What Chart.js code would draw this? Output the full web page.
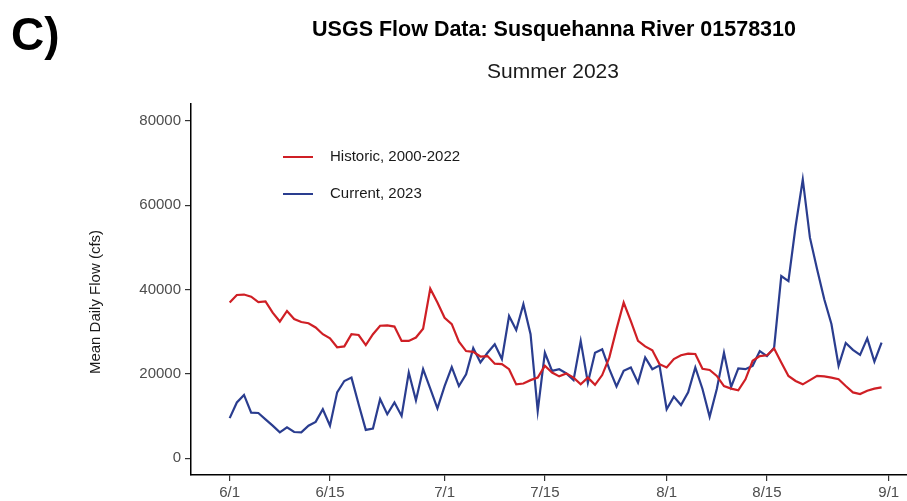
<!DOCTYPE html>
<html>
<head>
<meta charset="utf-8">
<script src="https://cdn.jsdelivr.net/npm/chart.js@4.4.1/dist/chart.umd.min.js"></script>
<style>
  html, body { margin: 0; padding: 0; background: #fff; }
  #wrap { width: 907px; height: 501px; }
</style>
</head>
<body>
<div id="wrap"><canvas id="flowChart" width="907" height="501"></canvas></div>
<script>
// days since 6/1 where the x axis is labelled
const tickDays = [0, 14, 30, 44, 61, 75, 92];
const tickLabels = ['6/1', '6/15', '7/1', '7/15', '8/1', '8/15', '9/1'];
const flowTicks = [0, 20000, 40000, 60000, 80000];

// mean daily flow (cfs), one value per day from 6/1 to 8/31
const historic = [
  36900, 38700, 38800, 38300, 37000, 37200, 34500, 32400, 34900, 33000,
  32300, 32000, 31000, 29400, 28400, 26300, 26500, 29400, 29200, 26800,
  29400, 31400, 31500, 31200, 27800, 27800, 28600, 30700, 40200, 36900,
  33300, 31800, 27600, 25400, 25200, 24100, 24200, 22400, 22300, 21100,
  17500, 17700, 18500, 19100, 21900, 20300, 19400, 20100, 19100, 17500,
  19100, 17400, 19700, 23900, 30600, 36900, 32500, 27800, 26500, 25600,
  22300, 21500, 23500, 24400, 24800, 24700, 21200, 20900, 19500, 17100,
  16500, 16100, 18700, 23100, 24200, 24400, 26000, 22700, 19500, 18300,
  17500, 18500, 19500, 19400, 19100, 18700, 17100, 15600, 15200, 16000,
  16500, 16800
];
const current = [
  9500, 13200, 15000, 10800, 10700, 9200, 7700, 6100, 7300, 6200,
  6100, 7700, 8600, 11600, 7700, 15600, 18300, 19100, 12800, 6700,
  7000, 14000, 10400, 13200, 10000, 20300, 13700, 21100, 16500, 11800,
  17100, 21600, 17100, 19900, 26100, 22700, 25000, 27000, 23500, 33700,
  30400, 36500, 29400, 11200, 25000, 20700, 21100, 20100, 18500, 27800,
  17900, 25000, 25800, 21100, 17000, 20700, 21500, 17900, 23900, 21100,
  22000, 11600, 14600, 12600, 15600, 21500, 16400, 9800, 16400, 25000,
  16900, 21300, 21100, 21900, 25400, 24200, 26200, 43200, 42000, 55000,
  66100, 52300, 44800, 37700, 31800, 21900, 27300, 25700, 24500, 28400,
  22900, 27400
];

const FONT = '"Liberation Sans", Arial, Helvetica, sans-serif';
const RED = '#cf1f25';
const BLUE = '#2a3d8f';

const toPoints = (values) => values.map((v, i) => ({ x: i, y: v }));

// headings, axis title and the in-panel legend
const decorations = {
  id: 'decorations',
  afterDraw(chart) {
    const ctx = chart.ctx;
    ctx.save();
    ctx.fillStyle = '#000';
    ctx.textBaseline = 'alphabetic';

    ctx.font = `bold 46px ${FONT}`;
    ctx.textAlign = 'left';
    ctx.fillText('C)', 11, 50);

    ctx.textAlign = 'center';
    ctx.font = `bold 21.5px ${FONT}`;
    ctx.fillText('USGS Flow Data: Susquehanna River 01578310', 554, 36);
    ctx.font = `21px ${FONT}`;
    ctx.fillStyle = '#1a1a1a';
    ctx.fillText('Summer 2023', 553, 78);

    ctx.save();
    ctx.translate(96, 302);
    ctx.rotate(-Math.PI / 2);
    ctx.font = `15px ${FONT}`;
    ctx.textBaseline = 'middle';
    ctx.fillText('Mean Daily Flow (cfs)', 0, 0);
    ctx.restore();

    ctx.textAlign = 'left';
    ctx.textBaseline = 'middle';
    ctx.font = `15px ${FONT}`;
    chart.data.datasets.forEach((ds, i) => {
      const y = 157 + i * 37;
      ctx.strokeStyle = ds.borderColor;
      ctx.lineWidth = 2;
      ctx.beginPath();
      ctx.moveTo(283, y);
      ctx.lineTo(313, y);
      ctx.stroke();
      ctx.fillStyle = '#1a1a1a';
      ctx.fillText(ds.label, 330, y);
    });
    ctx.restore();
  }
};

new Chart(document.getElementById('flowChart'), {
  type: 'line',
  data: {
    datasets: [
      { label: 'Historic, 2000-2022', data: toPoints(historic), borderColor: RED, borderWidth: 2.2, pointRadius: 0, tension: 0 },
      { label: 'Current, 2023', data: toPoints(current), borderColor: BLUE, borderWidth: 2.2, pointRadius: 0, tension: 0 }
    ]
  },
  options: {
    responsive: false,
    animation: false,
    layout: { padding: { top: 104, left: 0, right: 0, bottom: 0 } },
    plugins: { legend: { display: false }, tooltip: { enabled: false } },
    scales: {
      x: {
        type: 'linear',
        min: -5.4,
        max: 94.55,
        afterBuildTicks: (scale) => { scale.ticks = tickDays.map(v => ({ value: v })); },
        afterFit: (scale) => { scale.height = 26; },
        ticks: {
          autoSkip: false,
          maxRotation: 0,
          padding: 3,
          color: '#4d4d4d',
          font: { family: FONT, size: 15 },
          callback: (v) => tickLabels[tickDays.indexOf(v)]
        },
        grid: { drawOnChartArea: false, tickLength: 6, color: '#333', lineWidth: 1.2 },
        border: { display: true, color: '#000', width: 1.5 }
      },
      y: {
        min: -4000,
        max: 84000,
        afterBuildTicks: (scale) => { scale.ticks = flowTicks.map(v => ({ value: v })); },
        afterFit: (scale) => { scale.width = 191; },
        ticks: {
          padding: 4,
          color: '#4d4d4d',
          font: { family: FONT, size: 15 },
          callback: (v) => String(v)
        },
        grid: { drawOnChartArea: false, tickLength: 6, color: '#333', lineWidth: 1.2 },
        border: { display: true, color: '#000', width: 1.5 }
      }
    }
  },
  plugins: [decorations]
});
</script>
</body>
</html>
